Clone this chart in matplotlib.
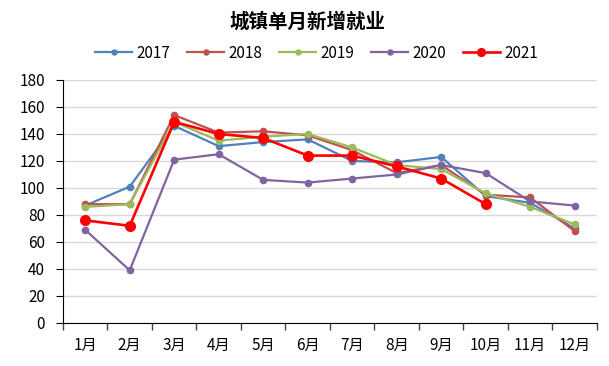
import matplotlib
matplotlib.use("Agg")
import matplotlib.pyplot as plt
import numpy as np

plt.rcParams['font.family'] = ['Noto Sans CJK SC', 'DejaVu Sans']

months = ["1月", "2月", "3月", "4月", "5月", "6月", "7月", "8月", "9月", "10月", "11月", "12月"]
y2017 = [87, 101, 146, 131, 134, 136, 120, 119, 123, 94, 89, 70]
y2018 = [88, 88, 154, 141, 142, 139, 128, 111, 117, 95, 93, 68]
y2019 = [86, 88, 149, 135, 138, 140, 130, 117, 114, 96, 86, 73]
y2020 = [69, 39, 121, 125, 106, 104, 107, 110, 117, 111, 90, 87]
y2021 = [76, 72, 149, 140, 137, 124, 124, 116, 107, 88]

fig = plt.figure(figsize=(6.09, 3.66), dpi=100)
ax = fig.add_axes([0.1034, 0.1175, 0.8768, 0.664])

x = np.arange(len(months))
series = [("2017", y2017, "#4F81BD"), ("2018", y2018, "#C0504D"),
          ("2019", y2019, "#9BBB59"), ("2020", y2020, "#8064A2")]
for name, vals, c in series:
    ax.plot(x[:len(vals)], vals, color=c, lw=1.6, marker='o', ms=4.5, label=name)
ax.plot(x[:len(y2021)], y2021, color="#FF0000", lw=1.9, marker='o', ms=7, label="2021")

ax.set_xlim(-0.5, 11.5)
ax.set_ylim(0, 180)
ax.set_yticks(range(0, 181, 20))
ax.set_xticks(x)
ax.set_xticklabels(months, fontsize=11)
ax.tick_params(axis='x', length=0, pad=10)
ax.set_xticks(np.arange(-0.5, 12, 1), minor=True)
ax.tick_params(axis='x', which='minor', length=5, direction='out', width=1, color='#444444')
ax.tick_params(axis='y', labelsize=11, length=5, direction='out', pad=8)
ax.grid(axis='y', color='#D9D9D9', lw=1)
ax.set_axisbelow(True)
for s in ['top', 'right']:
    ax.spines[s].set_visible(False)
ax.spines['left'].set_color('black')
ax.spines['bottom'].set_color('black')

fig.text(0.505, 1 - 22 / 366, "城镇单月新增就业", fontsize=14, fontweight='bold',
         ha='center', va='center')
leg = fig.legend(loc='center', bbox_to_anchor=(0.52, 1 - 53 / 366), ncol=5, frameon=False,
                 fontsize=11, handlelength=2.4, columnspacing=1.1, handletextpad=0.3,
                 markerscale=0.8)

fig.savefig("out.png", dpi=100)
